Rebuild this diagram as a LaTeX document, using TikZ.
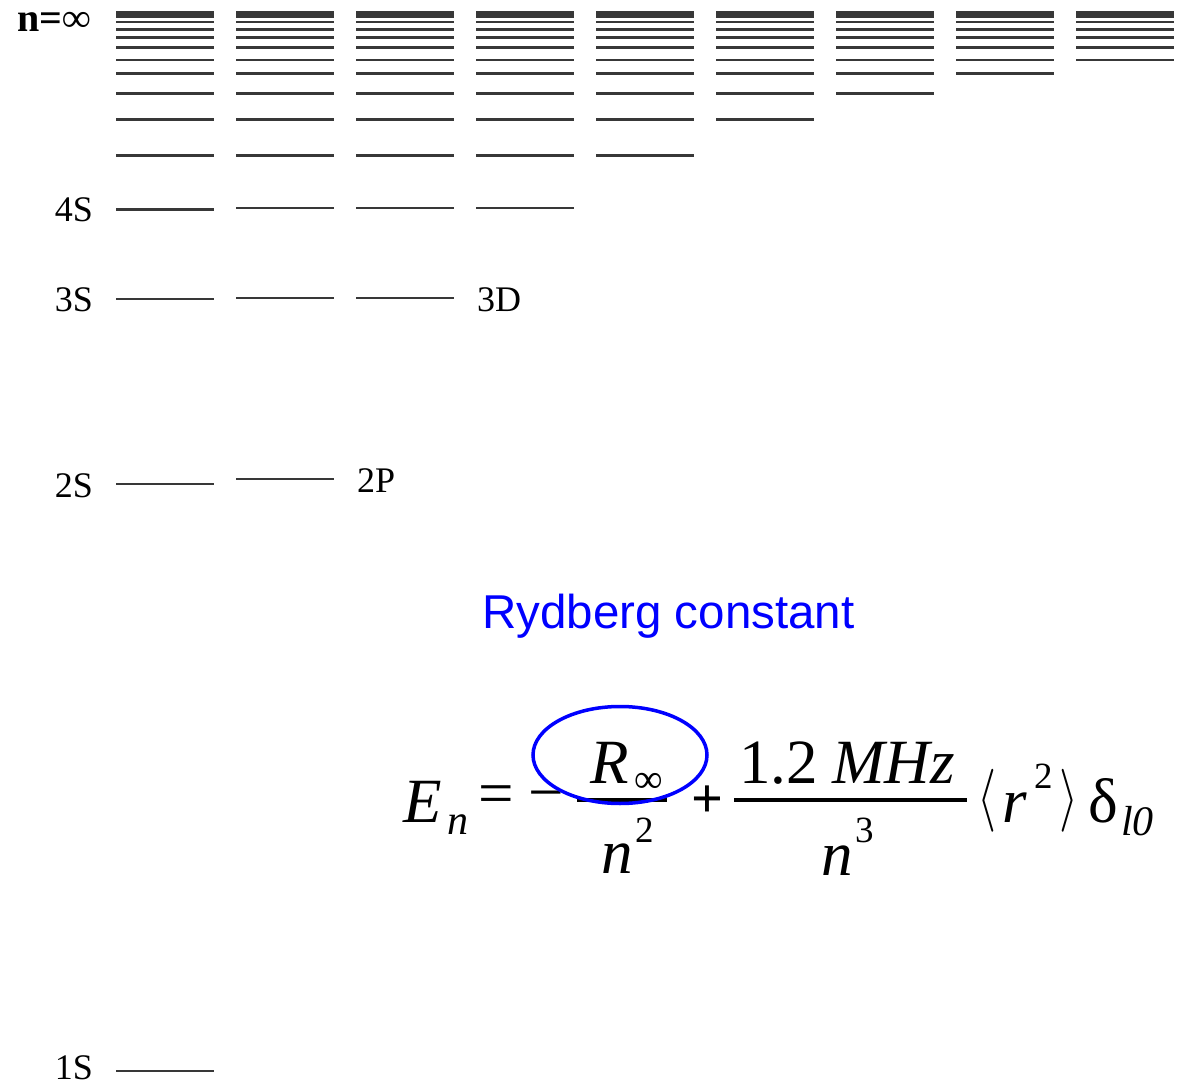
\documentclass[tikz,border=0pt]{standalone}
\usepackage{fontspec}
\setmainfont{Liberation Serif}
\newfontfamily\rydfont{Liberation Sans}

\begin{document}
\begin{tikzpicture}[
        x=1pt, y=-1pt,
        lvl/.style={line width=2.6pt, black!78},
        term/.style={inner sep=0pt, font=\fontsize{36}{38}\selectfont},
        eq/.style={inner sep=0pt, font=\fontsize{63}{70}\selectfont},
        eqsub/.style={inner sep=0pt, font=\fontsize{42}{46}\selectfont},
        eqsup/.style={inner sep=0pt, font=\fontsize{37}{40}\selectfont},
        bar/.style={line width=3.5pt}
    ]
    \useasboundingbox (0,0) rectangle (1184,1086);

    % Energy levels, one column per l
    \foreach \c in {1,...,9}{
        \foreach \n/\ys/\yl in {1/1071/1071, 2/484/479, 3/299/298, 4/209.5/208, 5/155.7/155.7, 6/119.7/119.7, 7/93.7/93.7, 8/73.7/73.7, 9/60/60, 10/47.7/47.7, 11/37.7/37.7, 12/29.7/29.7, 13/22/22, 14/16.6/16.6, 15/14.3/14.3, 16/12/12}{
            \ifnum\n<\c\relax\else
                \ifnum\c=1
                    \draw[lvl] (116,\ys) -- ++(98,0);
                \else
                    \draw[lvl] ({116+120*(\c-1)},\yl) -- ++(98,0);
                \fi
            \fi
        }
    }

    % Term labels
    \node[inner sep=0pt, anchor=base east, font=\bfseries\fontsize{40}{42}\selectfont] (ninf) at (91,32) {n=∞};
    \node[term, anchor=base east] (s4) at (93,222) {4S};
    \node[term, anchor=base east] (s3) at (93,312) {3S};
    \node[term, anchor=base east] (s2) at (93,497) {2S};
    \node[term, anchor=base east] (s1) at (93,1079) {1S};
    \node[term, anchor=base west] (d3) at (477,312) {3D};
    \node[term, anchor=base west] (p2) at (357,492) {2P};

    % Formula
    \node[eq, anchor=base west] (en) at (403,822) {\itshape E};
    \node[eqsub, anchor=base west] (ensub) at (447,834) {\itshape n};
    \node[eq] (eqsign) at (496,800) {=};
    \node[eq] (minus) at (546,802) {−};
    \draw[bar] (577,800) -- (667,800);
    \node[eq, anchor=base west] (rinf) at (590,783) {\itshape R};
    \node[inner sep=0pt, font=\fontsize{40}{44}\selectfont] (rinfsub) at (649,783) {∞};
    \node[eq, anchor=base west] (na) at (601,873) {\itshape n};
    \node[eqsup, anchor=base west] (supa) at (635,842) {2};
    \node[inner sep=0pt, font=\bfseries\fontsize{56}{60}\selectfont] (plus) at (707,802) {+};
    \draw[bar] (734,800) -- (967,800);
    \node[eq, anchor=base west] (num) at (739,783) {1.2};
    \node[eq, anchor=base west] (mhz) at (832,783) {\itshape MHz};
    \node[eq, anchor=base west] (nb) at (821,875) {\itshape n};
    \node[eqsup, anchor=base west] (supb) at (855,842) {3};
    \node[inner sep=0pt] (lang) at (987,801) {\resizebox*{19pt}{63pt}{$\langle$}};
    \node[eq, anchor=base west] (rr) at (1002,822) {\itshape r};
    \node[eqsup, anchor=base west] (supc) at (1034,788) {2};
    \node[inner sep=0pt] (rang) at (1069,801) {\resizebox*{19pt}{63pt}{$\rangle$}};
    \node[eq, anchor=base west] (delta) at (1088,822) {δ};
    \node[eqsub, anchor=base west] (dsub) at (1121,835) {\itshape l0};

    % Rydberg constant
    \draw[blue, line width=3.5pt] (620,755) ellipse [x radius=87, y radius=48.5];
    \node[inner sep=0pt, anchor=base west, text=blue, font=\rydfont\fontsize{47.5}{50}\selectfont] (ryd) at (482,628) {Rydberg constant};

\end{tikzpicture}
\end{document}
